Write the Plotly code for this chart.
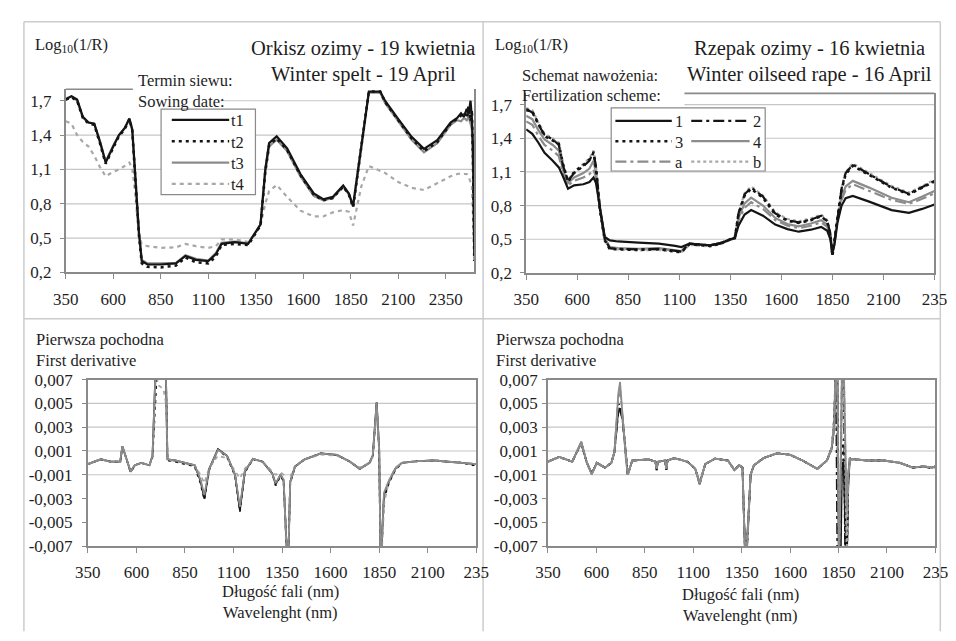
import plotly.graph_objects as go

# The page body has an 8px margin, so the figure is drawn 8px right/down;
# positions below are given in window pixels and shifted back by OFF.
OFF = 8
W, H = 956, 641


def fx(x):
    return (x - OFF) / W


def fy(y):
    return 1 - (y - OFF) / H


# ---------------- DATA ----------------
# Top-left: Orkisz ozimy (winter spelt), log10(1/R)
wl_spelt = [350, 380, 410, 440, 470, 500, 530, 560, 600, 630,
            660, 685, 700, 715, 735, 750, 780, 850, 930, 980,
            1035, 1100, 1140, 1170, 1240, 1310, 1350, 1375, 1400, 1420,
            1460, 1515, 1585, 1655, 1705, 1755, 1810, 1840, 1862, 1885,
            1905, 1945, 2005, 2030, 2100, 2170, 2235, 2305, 2375, 2410,
            2430, 2445, 2460, 2470, 2480, 2487, 2493, 2500]
spelt_t1 = [1.71, 1.74, 1.71, 1.56, 1.51, 1.50, 1.34, 1.16, 1.30, 1.40,
            1.46, 1.545, 1.45, 1.08, 0.55, 0.30, 0.27, 0.27, 0.28, 0.345,
            0.31, 0.30, 0.36, 0.45, 0.465, 0.45, 0.55, 0.62, 1.10, 1.33,
            1.39, 1.285, 1.06, 0.89, 0.84, 0.86, 0.96, 0.89, 0.78, 1.06,
            1.27, 1.78, 1.78, 1.70, 1.54, 1.385, 1.28, 1.355, 1.51, 1.55,
            1.59, 1.56, 1.63, 1.58, 1.70, 1.55, 1.30, 0.35]
spelt_t2 = [1.71, 1.73, 1.70, 1.55, 1.50, 1.49, 1.33, 1.15, 1.29, 1.39,
            1.45, 1.54, 1.44, 1.06, 0.53, 0.28, 0.25, 0.245, 0.26, 0.33,
            0.29, 0.28, 0.34, 0.44, 0.45, 0.44, 0.54, 0.61, 1.08, 1.31,
            1.37, 1.27, 1.05, 0.88, 0.83, 0.85, 0.95, 0.88, 0.77, 1.05,
            1.26, 1.78, 1.78, 1.69, 1.53, 1.37, 1.26, 1.34, 1.50, 1.54,
            1.57, 1.60, 1.55, 1.66, 1.52, 1.62, 1.20, 0.30]
spelt_t3 = [1.72, 1.74, 1.70, 1.55, 1.51, 1.50, 1.35, 1.17, 1.31, 1.40,
            1.46, 1.54, 1.44, 1.07, 0.56, 0.31, 0.28, 0.28, 0.285, 0.35,
            0.32, 0.305, 0.37, 0.46, 0.47, 0.455, 0.55, 0.62, 1.08, 1.30,
            1.36, 1.26, 1.04, 0.87, 0.83, 0.85, 0.95, 0.88, 0.78, 1.05,
            1.26, 1.77, 1.77, 1.68, 1.52, 1.36, 1.25, 1.33, 1.49, 1.53,
            1.52, 1.55, 1.53, 1.56, 1.50, 1.45, 1.10, 0.30]
spelt_t4 = [1.52, 1.50, 1.40, 1.34, 1.30, 1.22, 1.12, 1.04, 1.08, 1.10,
            1.13, 1.16, 1.11, 0.90, 0.52, 0.45, 0.43, 0.415, 0.42, 0.45,
            0.43, 0.415, 0.43, 0.49, 0.49, 0.465, 0.55, 0.62, 0.80, 0.91,
            0.965, 0.86, 0.74, 0.69, 0.69, 0.725, 0.745, 0.73, 0.61, 0.80,
            0.95, 1.13, 1.09, 1.07, 0.99, 0.94, 0.92, 0.98, 1.04, 1.06,
            1.065, 1.06, 1.06, 1.04, 0.99, 0.95, 0.70, 0.40]

# Top-right: Rzepak ozimy (winter oilseed rape), log10(1/R)
wl_rape = [350, 380, 410, 440, 480, 510, 530, 555, 585, 630,
           660, 680, 692, 712, 735, 760, 800, 900, 1000, 1080,
           1110, 1150, 1200, 1250, 1300, 1350, 1372, 1390, 1420, 1452,
           1510, 1570, 1630, 1685, 1745, 1795, 1825, 1840, 1850, 1860,
           1875, 1895, 1915, 1950, 2030, 2140, 2225, 2290, 2350]
rape_1 = [1.48, 1.44, 1.36, 1.27, 1.20, 1.14, 1.06, 0.95, 0.98, 0.99,
          1.01, 1.05, 1.00, 0.76, 0.52, 0.49, 0.48, 0.47, 0.46, 0.44,
          0.43, 0.46, 0.455, 0.445, 0.46, 0.50, 0.51, 0.62, 0.72, 0.76,
          0.71, 0.63, 0.59, 0.567, 0.585, 0.61, 0.575, 0.50, 0.38, 0.45,
          0.65, 0.80, 0.865, 0.885, 0.835, 0.76, 0.735, 0.77, 0.81]
rape_2 = [1.66, 1.63, 1.52, 1.43, 1.39, 1.34, 1.16, 1.02, 1.09, 1.15,
          1.20, 1.28, 1.14, 0.76, 0.50, 0.42, 0.415, 0.41, 0.415, 0.40,
          0.39, 0.46, 0.455, 0.445, 0.465, 0.50, 0.51, 0.73, 0.90, 0.96,
          0.88, 0.73, 0.67, 0.65, 0.675, 0.71, 0.66, 0.55, 0.36, 0.48,
          0.70, 0.95, 1.09, 1.165, 1.08, 0.965, 0.905, 0.965, 1.02]
rape_3 = [1.65, 1.64, 1.53, 1.42, 1.38, 1.35, 1.17, 1.01, 1.10, 1.16,
          1.21, 1.27, 1.13, 0.75, 0.49, 0.41, 0.41, 0.405, 0.41, 0.395,
          0.385, 0.455, 0.45, 0.44, 0.46, 0.50, 0.51, 0.72, 0.89, 0.95,
          0.87, 0.72, 0.665, 0.645, 0.67, 0.705, 0.655, 0.54, 0.35, 0.47,
          0.69, 0.94, 1.08, 1.155, 1.075, 0.96, 0.90, 0.96, 1.015]
rape_4 = [1.60, 1.57, 1.47, 1.39, 1.34, 1.29, 1.12, 1.00, 1.05, 1.09,
          1.13, 1.20, 1.09, 0.76, 0.51, 0.43, 0.42, 0.415, 0.42, 0.405,
          0.395, 0.46, 0.455, 0.445, 0.465, 0.50, 0.51, 0.69, 0.82, 0.87,
          0.80, 0.69, 0.635, 0.615, 0.64, 0.67, 0.63, 0.53, 0.36, 0.47,
          0.68, 0.88, 0.97, 1.02, 0.96, 0.87, 0.83, 0.88, 0.93]
rape_a = [1.55, 1.52, 1.42, 1.34, 1.29, 1.24, 1.09, 0.98, 1.02, 1.05,
          1.08, 1.12, 1.05, 0.76, 0.51, 0.425, 0.415, 0.41, 0.415, 0.40,
          0.39, 0.46, 0.455, 0.445, 0.465, 0.50, 0.51, 0.67, 0.78, 0.83,
          0.77, 0.67, 0.62, 0.60, 0.62, 0.65, 0.61, 0.52, 0.37, 0.46,
          0.66, 0.85, 0.94, 0.99, 0.93, 0.85, 0.815, 0.86, 0.91]
rape_b = [1.67, 1.65, 1.54, 1.44, 1.40, 1.36, 1.18, 1.03, 1.10, 1.17,
          1.22, 1.29, 1.15, 0.77, 0.50, 0.415, 0.41, 0.40, 0.405, 0.39,
          0.38, 0.45, 0.445, 0.435, 0.455, 0.495, 0.51, 0.74, 0.91, 0.97,
          0.89, 0.74, 0.68, 0.66, 0.685, 0.72, 0.67, 0.56, 0.37, 0.49,
          0.71, 0.96, 1.10, 1.175, 1.09, 0.975, 0.915, 0.975, 1.03]

# Bottom-left: first derivative, spelt
wl_d_spelt = [350, 417, 467, 517, 528, 550, 570, 592, 625, 667,
              683, 700, 715, 740, 752, 760, 800, 900, 930, 950,
              975, 1020, 1067, 1108, 1133, 1158, 1200, 1250, 1300, 1317,
              1342, 1358, 1372, 1380, 1392, 1417, 1467, 1550, 1633, 1700,
              1750, 1800, 1817, 1837, 1850, 1858, 1868, 1875, 1900, 1933,
              1967, 2050, 2133, 2217, 2283, 2333, 2350]
d_spelt_t1 = [-0.0001, 0.0003, 0.0001, 0.0001, 0.0014, 0.0003, -0.00075, -0.0002, 0.0, -0.0002,
              0.0006, 0.0085, 0.011, 0.009, 0.0075, 0.0003, 0.0002, -0.0002, -0.0015, -0.003,
              -0.0005, 0.00115, 0.0006, -0.001, -0.004, -0.00075, 0.00034, 0.0001, -0.0009, -0.0018,
              -0.001, -0.0015, -0.0085, -0.0095, -0.0016, -0.0003, 0.0003, 0.0008, 0.00067, 0.0001,
              -0.0005, 0.0, 0.0006, 0.0051, 0.0012, -0.009, -0.005, -0.0027, -0.0016, -0.0005,
              0.0, 0.00015, 0.0002, 0.0001, 0.0, -0.0001, -0.0001]
d_spelt_t2 = [-0.0001, 0.0003, 0.0001, 0.0001, 0.0013, 0.0003, -0.0008, -0.0002, 0.0, -0.0002,
              0.0005, 0.008, 0.0105, 0.009, 0.0072, 0.0002, 0.0001, -0.0003, -0.0017, -0.0031,
              -0.0006, 0.0011, 0.0005, -0.0011, -0.0041, -0.0008, 0.0003, 0.0001, -0.0009, -0.0019,
              -0.0011, -0.0015, -0.0087, -0.0095, -0.0017, -0.0003, 0.0003, 0.0008, 0.00065, 0.0001,
              -0.0005, 0.0, 0.0005, 0.0049, 0.001, -0.009, -0.0055, -0.003, -0.0017, -0.0006,
              0.0, 0.00015, 0.0002, 0.0001, 0.0, -0.0002, -0.0001]
d_spelt_t3 = [-0.0001, 0.0003, 0.0001, 0.0001, 0.0014, 0.0003, -0.0007, -0.0002, 0.0, -0.0002,
              0.0006, 0.0082, 0.0105, 0.009, 0.0074, 0.0003, 0.0002, -0.0002, -0.0014, -0.0027,
              -0.0005, 0.0011, 0.0006, -0.001, -0.0037, -0.0007, 0.00034, 0.0001, -0.0009, -0.0017,
              -0.001, -0.0014, -0.0085, -0.0095, -0.0016, -0.0003, 0.0003, 0.0008, 0.00067, 0.0001,
              -0.0005, 0.0, 0.0006, 0.0051, 0.0012, -0.009, -0.005, -0.0025, -0.0015, -0.0005,
              0.0, 0.00015, 0.0002, 0.0001, 0.0, -0.0001, -0.0001]
d_spelt_t4 = [-0.0001, 0.0003, 0.0001, 0.0001, 0.0013, 0.0003, -0.0007, -0.0002, 0.0, -0.0002,
              0.0005, 0.0075, 0.0065, 0.0062, 0.005, 0.0002, 0.0002, -0.0002, -0.001, -0.0017,
              -0.0004, 0.0006, 0.0004, -0.0007, -0.0013, -0.0005, 0.0003, 0.0001, -0.0007, -0.001,
              -0.0008, -0.001, -0.0075, -0.009, -0.0012, -0.0002, 0.0003, 0.0007, 0.0006, 0.0001,
              -0.0004, 0.0, 0.0005, 0.0045, 0.001, -0.0088, -0.0062, -0.0035, -0.0015, -0.0004,
              0.0, 0.00015, 0.0002, 0.0001, 0.0, -0.0001, -0.0001]

# Bottom-right: first derivative, oilseed rape
wl_d_rape = [350, 408, 475, 522, 551, 576, 602, 644, 677, 693,
             713, 722, 735, 752, 762, 785, 869, 905, 911, 917,
             955, 961, 967, 1003, 1070, 1110, 1133, 1162, 1212, 1279,
             1312, 1337, 1354, 1370, 1380, 1396, 1413, 1463, 1530, 1597,
             1664, 1740, 1790, 1815, 1828, 1836, 1844, 1852, 1860, 1868,
             1876, 1884, 1892, 1900, 1908, 1916, 1933, 2000, 2083, 2167,
             2233, 2290, 2333, 2350]
d_rape_1 = [0.0001, 0.0005, 0.0001, 0.0017, 0.0, -0.0009, 0.0, -0.0004, 0.0, 0.0009,
            0.0045, 0.0044, 0.0037, 0.0003, -0.001, 0.0002, 0.0003, 0.0001, -0.0006, 0.0001,
            0.0002, -0.0006, 0.0002, 0.0004, 0.0001, -0.0005, -0.0017, -0.0001, 0.00036, 0.0002,
            -0.0006, -0.0002, -0.0004, -0.009, -0.006, -0.001, -0.0002, 0.0004, 0.0008, 0.0007,
            0.0002, -0.0005, 0.0002, 0.0013, 0.003, 0.009, 0.009, -0.009, -0.009, 0.0,
            0.0, -0.009, -0.009, -0.002, 0.0004, 0.0003, 0.0003, 0.0002, 0.0002, 0.0,
            -0.0004, -0.0003, -0.0004, -0.0003]
d_rape_2 = [0.0001, 0.0005, 0.0001, 0.0016, 0.0, -0.0009, 0.0, -0.0004, 0.0, 0.0009,
            0.0042, 0.0046, 0.0036, 0.0003, -0.001, 0.0002, 0.0003, 0.0001, -0.0006, 0.0001,
            0.0002, -0.0006, 0.0002, 0.0004, 0.0001, -0.0005, -0.0018, -0.0001, 0.00035, 0.0002,
            -0.0006, -0.0002, -0.0004, -0.009, -0.0065, -0.001, -0.0002, 0.0004, 0.0008, 0.0007,
            0.0002, -0.0005, 0.0002, 0.0012, 0.0035, 0.009, -0.009, -0.009, -0.003, 0.008,
            0.009, -0.008, -0.009, -0.001, 0.0004, 0.0003, 0.0003, 0.0002, 0.0002, 0.0,
            -0.0004, -0.0003, -0.0005, -0.0003]
d_rape_3 = [0.0001, 0.0005, 0.0001, 0.0017, 0.0, -0.0009, 0.0, -0.0004, 0.0, 0.0009,
            0.005, 0.0048, 0.0038, 0.0003, -0.001, 0.0002, 0.0003, 0.0001, -0.0006, 0.0001,
            0.0002, -0.0006, 0.0002, 0.0004, 0.0001, -0.0005, -0.0017, -0.0001, 0.00036, 0.0002,
            -0.0006, -0.0002, -0.0004, -0.009, -0.006, -0.001, -0.0002, 0.0004, 0.0008, 0.0007,
            0.0002, -0.0005, 0.0002, 0.0013, 0.004, 0.009, 0.002, -0.009, -0.004, 0.001,
            0.002, -0.007, -0.009, -0.0015, 0.0004, 0.0003, 0.0003, 0.0002, 0.0002, 0.0,
            -0.0004, -0.0003, -0.0004, -0.0003]
d_rape_4 = [0.0001, 0.0005, 0.0001, 0.0018, 0.0, -0.001, 0.0, -0.0004, 0.0, 0.0009,
            0.0058, 0.0068, 0.004, 0.0003, -0.001, 0.0002, 0.0003, 0.0001, -0.0005, 0.0001,
            0.0002, -0.0005, 0.0002, 0.0004, 0.0001, -0.0005, -0.0018, -0.0001, 0.00036, 0.0002,
            -0.0006, -0.0002, -0.0004, -0.009, -0.006, -0.001, -0.0002, 0.0004, 0.0008, 0.0007,
            0.0002, -0.0005, 0.0002, 0.0013, 0.0035, 0.009, 0.005, -0.009, -0.002, 0.009,
            0.009, 0.002, -0.004, -0.001, 0.0004, 0.0003, 0.0003, 0.0002, 0.0002, 0.0,
            -0.0004, -0.0003, -0.0004, -0.0003]
d_rape_a = [0.0001, 0.0005, 0.0001, 0.0017, 0.0, -0.0009, 0.0, -0.0004, 0.0, 0.0009,
            0.0055, 0.006, 0.0039, 0.0003, -0.001, 0.0002, 0.0003, 0.0001, -0.0005, 0.0001,
            0.0002, -0.0005, 0.0002, 0.0004, 0.0001, -0.0005, -0.0017, -0.0001, 0.00036, 0.0002,
            -0.0006, -0.0002, -0.0004, -0.009, -0.006, -0.001, -0.0002, 0.0004, 0.0008, 0.0007,
            0.0002, -0.0005, 0.0002, 0.0012, 0.003, 0.008, 0.009, -0.008, -0.002, 0.007,
            0.009, 0.001, -0.006, -0.0015, 0.0004, 0.0003, 0.0003, 0.0002, 0.0002, 0.0,
            -0.0004, -0.0003, -0.0004, -0.0003]
d_rape_b = [0.0001, 0.0005, 0.0001, 0.0017, 0.0, -0.0009, 0.0, -0.0004, 0.0, 0.0009,
            0.0056, 0.0065, 0.0039, 0.0003, -0.001, 0.0002, 0.0003, 0.0001, -0.0005, 0.0001,
            0.0002, -0.0005, 0.0002, 0.0004, 0.0001, -0.0005, -0.0017, -0.0001, 0.00036, 0.0002,
            -0.0006, -0.0002, -0.0004, -0.009, -0.006, -0.001, -0.0002, 0.0004, 0.0008, 0.0007,
            0.0002, -0.0005, 0.0002, 0.0013, 0.004, 0.009, 0.009, -0.009, -0.001, 0.009,
            0.008, 0.0, -0.008, -0.001, 0.0004, 0.0003, 0.0003, 0.0002, 0.0002, 0.0,
            -0.0004, -0.0003, -0.0004, -0.0003]

# Axis ticks / grids
wl_ticks = [350, 600, 850, 1100, 1350, 1600, 1850, 2100, 2350]
wl_ticktext_full = ["350", "600", "850", "1100", "1350", "1600", "1850", "2100", "2350"]
wl_ticktext_cut = ["350", "600", "850", "1100", "1350", "1600", "1850", "2100", "235"]
log_ticks = [0.2, 0.5, 0.8, 1.1, 1.4, 1.7]
log_ticktext = ["0,2", "0,5", "0,8", "1,1", "1,4", "1,7"]
log_grid = [0.5, 0.8, 1.1, 1.4, 1.7]
der_ticks = [-0.007, -0.005, -0.003, -0.001, 0.001, 0.003, 0.005, 0.007]
der_ticktext = ["-0,007", "-0,005", "-0,003", "-0,001", "0,001", "0,003", "0,005", "0,007"]
der_grid = [0.005, 0.003, 0.001, -0.001]

spelt_names = ["t1", "t2", "t3", "t4"]
rape_names = ["1", "2", "3", "4", "a", "b"]

# ---------------- STYLE ----------------
BLACK = "#141414"
GREY = "#8c8c8c"
LGREY = "#a8a8a8"
STY = {
    "t1": dict(color=BLACK, width=2.2, dash="solid"),
    "t2": dict(color=BLACK, width=2.6, dash="3px,4px"),
    "t3": dict(color=GREY, width=2.2, dash="solid"),
    "t4": dict(color=LGREY, width=2.2, dash="4px,4px"),
    "1": dict(color=BLACK, width=2.2, dash="solid"),
    "2": dict(color=BLACK, width=2.2, dash="11px,4px,3px,4px"),
    "3": dict(color=BLACK, width=2.6, dash="3px,4px"),
    "4": dict(color=GREY, width=2.2, dash="solid"),
    "a": dict(color=GREY, width=2.2, dash="11px,4px,3px,4px"),
    "b": dict(color=LGREY, width=2.2, dash="3px,3px"),
}
SERIF = "Liberation Serif, Times New Roman, DejaVu Serif, serif"
TXT = "#1e1e1e"
AXC = "#8a8a8a"
GRIDC = "#c6c6c6"

fig = go.Figure()

spelt_vals = {"t1": spelt_t1, "t2": spelt_t2, "t3": spelt_t3, "t4": spelt_t4}
for n in ["t4", "t3", "t2", "t1"]:
    fig.add_trace(go.Scatter(x=wl_spelt, y=spelt_vals[n], mode="lines", name=n,
                             line=STY[n], xaxis="x", yaxis="y", showlegend=False,
                             hoverinfo="skip"))

rape_vals = {"1": rape_1, "2": rape_2, "3": rape_3, "4": rape_4, "a": rape_a, "b": rape_b}
for n in ["a", "4", "b", "3", "2", "1"]:
    fig.add_trace(go.Scatter(x=wl_rape, y=rape_vals[n], mode="lines", name=n,
                             line=STY[n], xaxis="x2", yaxis="y2", showlegend=False,
                             hoverinfo="skip"))

d_spelt_vals = {"t1": d_spelt_t1, "t2": d_spelt_t2, "t3": d_spelt_t3, "t4": d_spelt_t4}
for n in ["t1", "t2", "t4", "t3"]:
    st = dict(STY[n])
    st["width"] = 1.8
    fig.add_trace(go.Scatter(x=wl_d_spelt, y=d_spelt_vals[n], mode="lines", name=n,
                             line=st, xaxis="x3", yaxis="y3", showlegend=False,
                             hoverinfo="skip"))

d_rape_vals = {"1": d_rape_1, "2": d_rape_2, "3": d_rape_3, "4": d_rape_4, "a": d_rape_a, "b": d_rape_b}
for n in ["1", "2", "3", "a", "b", "4"]:
    st = dict(STY[n])
    st["width"] = 1.8
    fig.add_trace(go.Scatter(x=wl_d_rape, y=d_rape_vals[n], mode="lines", name=n,
                             line=st, xaxis="x4", yaxis="y4", showlegend=False,
                             hoverinfo="skip"))

tickfont = dict(family=SERIF, size=17, color=TXT)


def xax(domain, rng, ticktext, anchor, mirror):
    return dict(domain=domain, range=rng, anchor=anchor, tickmode="array",
                tickvals=wl_ticks, ticktext=ticktext, showgrid=False, zeroline=False,
                showline=True, linecolor=AXC, linewidth=1.6, mirror=mirror,
                ticks="outside", ticklen=5, tickcolor=AXC, tickwidth=1,
                ticklabelstandoff=5, tickfont=tickfont, fixedrange=True)


def yax(domain, rng, vals, text, anchor, standoff):
    return dict(domain=domain, range=rng, anchor=anchor, tickmode="array",
                tickvals=vals, ticktext=text, showgrid=False, zeroline=False,
                showline=True, linecolor=AXC, linewidth=1.6, mirror=True,
                ticks="outside", ticklen=4, tickcolor=AXC,
                ticklabelstandoff=standoff, tickfont=tickfont, fixedrange=True)


TL = dict(x0=54, x1=474, y0=82.5, y1=271.3)
TR = dict(x0=527.3, x1=947, y0=86.7, y1=271.7)
BL = dict(x0=76.7, x1=476, y0=381.7, y1=553.3)
BR = dict(x0=549.7, x1=948, y0=381.7, y1=553.3)


def dx(p):
    return [fx(p["x0"]), fx(p["x1"])]


def dy(p):
    return [fy(p["y1"]), fy(p["y0"])]


fig.update_layout(
    width=W, height=H, autosize=False,
    margin=dict(l=0, r=0, t=0, b=0),
    paper_bgcolor="white", plot_bgcolor="white",
    showlegend=False,
    xaxis=xax(dx(TL), [350, 2500], wl_ticktext_full, "y", False),
    yaxis=yax(dy(TL), [0.2, 1.8], log_ticks, log_ticktext, "x", 5),
    xaxis2=xax(dx(TR), [350, 2350], wl_ticktext_cut, "y2", False),
    yaxis2=yax(dy(TR), [0.2, 1.8], log_ticks, log_ticktext, "x2", 5),
    xaxis3=xax(dx(BL), [350, 2350], wl_ticktext_cut, "y3", True),
    yaxis3=yax(dy(BL), [-0.007, 0.007], der_ticks, der_ticktext, "x3", 6),
    xaxis4=xax(dx(BR), [350, 2350], wl_ticktext_cut, "y4", True),
    yaxis4=yax(dy(BR), [-0.007, 0.007], der_ticks, der_ticktext, "x4", 1),
)

shapes = []
FRAME = "#cccccc"
# panel frames
for (x0, y0, x1, y1) in [(11, 13, 953, 13), (11, 13, 11, 641), (953, 13, 953, 641),
                         (483, 13, 483, 641), (11, 319, 953, 319)]:
    shapes.append(dict(type="line", xref="paper", yref="paper", x0=fx(x0), x1=fx(x1),
                       y0=fy(y0), y1=fy(y1), line=dict(color=FRAME, width=1.5), layer="below"))

# gridlines (the 1.7 line is hidden behind the legend-title block on the left)
grid_start = {"": (213 - 54) / 420, "2": (690 - 527.3) / 419.7}
for ax in ["", "2"]:
    for g in log_grid:
        x0 = grid_start[ax] if g == 1.7 else 0
        shapes.append(dict(type="line", xref="x%s domain" % ax, yref="y%s" % ax, x0=x0, x1=1,
                           y0=g, y1=g, line=dict(color=GRIDC, width=1.2), layer="below"))
for ax in ["3", "4"]:
    for g in der_grid:
        shapes.append(dict(type="line", xref="x%s domain" % ax, yref="y%s" % ax, x0=0, x1=1,
                           y0=g, y1=g, line=dict(color=GRIDC, width=1.2), layer="below"))

# partial top borders
shapes.append(dict(type="line", xref="x domain", yref="y domain", x0=0, x1=(123 - 54) / 420,
                   y0=1, y1=1, line=dict(color=AXC, width=1.6), layer="above"))
shapes.append(dict(type="line", xref="x2 domain", yref="y2 domain", x0=(690 - 527.3) / 419.7, x1=1,
                   y0=1, y1=1, line=dict(color=AXC, width=1.6), layer="above"))

annotations = []


def text(s, x, y, size=16.5, xanchor="left"):
    annotations.append(dict(text=s, x=fx(x), y=fy(y), xref="paper", yref="paper",
                            xanchor=xanchor, yanchor="middle", showarrow=False,
                            font=dict(family=SERIF, size=size, color=TXT)))


# legend: spelt
shapes.append(dict(type="rect", xref="paper", yref="paper", x0=fx(152), x1=fx(249),
                   y0=fy(191), y1=fy(103), fillcolor="white",
                   line=dict(color=AXC, width=1.2), layer="above"))
for i, n in enumerate(spelt_names):
    yy = 114 + 22 * i
    st = STY[n]
    shapes.append(dict(type="line", xref="paper", yref="paper", x0=fx(163), x1=fx(222),
                       y0=fy(yy), y1=fy(yy), layer="above",
                       line=dict(color=st["color"], width=st["width"], dash=st["dash"])))
    text(n, 222, yy + 1)

# legend: rape (2 columns)
shapes.append(dict(type="rect", xref="paper", yref="paper", x0=fx(614.7), x1=fx(773),
                   y0=fy(166.7), y1=fy(101.7), fillcolor="white",
                   line=dict(color=AXC, width=1.2), layer="above"))
for i, n in enumerate(rape_names):
    row, col = i // 2, i % 2
    yy = 115 + 21 * row
    xs = [619, 677] if col == 0 else [697, 757]
    st = STY[n]
    shapes.append(dict(type="line", xref="paper", yref="paper", x0=fx(xs[0]), x1=fx(xs[1]),
                       y0=fy(yy), y1=fy(yy), layer="above",
                       line=dict(color=st["color"], width=st["width"], dash=st["dash"])))
    text(n, xs[1] + 1, yy + 1)

# texts
text("Log<sub>10</sub>(1/R)", 20, 37)
text("Orkisz ozimy - 19 kwietnia", 360, 40, 20.5, "center")
text("Winter spelt - 19 April", 360, 67, 20.5, "center")
text("Termin siewu:", 126, 73)
text("Sowing date:", 126, 95)

text("Log<sub>10</sub>(1/R)", 493, 37)
text("Rzepak ozimy - 16 kwietnia", 819, 40, 20.5, "center")
text("Winter oilseed rape - 16 April", 819, 67, 20.5, "center")
text("Schemat nawożenia:", 521, 68)
text("Fertilization scheme:", 521, 89)

text("Pierwsza pochodna", 21, 340)
text("First derivative", 21, 362)
text("Długość fali (nm)", 275, 600, 16.5, "center")
text("Wavelenght (nm)", 275, 622, 16.5, "center")

text("Pierwsza pochodna", 494, 340)
text("First derivative", 494, 362)
text("Długość fali (nm)", 748, 603, 16.5, "center")
text("Wavelenght (nm)", 748, 625, 16.5, "center")

fig.update_layout(shapes=shapes, annotations=annotations)
fig.write_html("out.html")
